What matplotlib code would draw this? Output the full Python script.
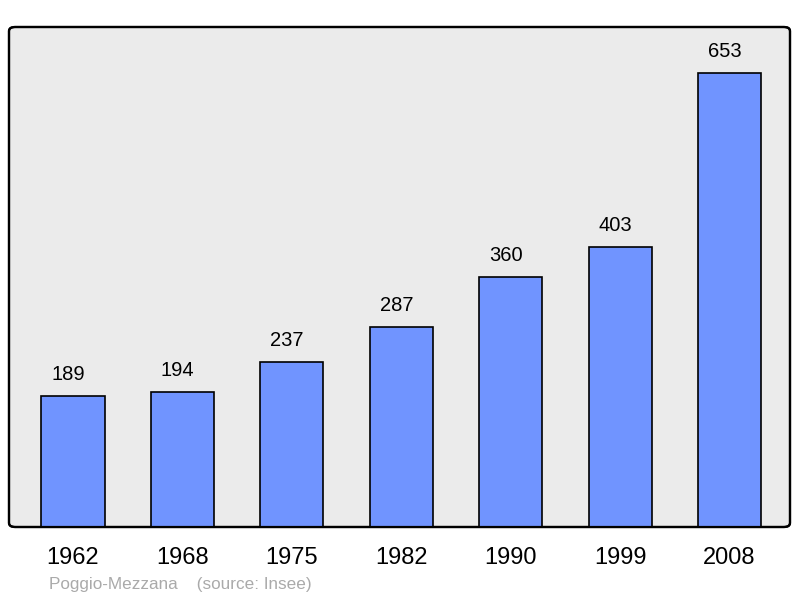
import matplotlib.pyplot as plt
from matplotlib.patches import FancyBboxPatch

# population data
years = ['1962', '1968', '1975', '1982', '1990', '1999', '2008']
population = [189, 194, 237, 287, 360, 403, 653]
commune = 'Poggio-Mezzana'
source = '(source: Insee)'

plt.rcParams['font.family'] = ['Liberation Sans', 'DejaVu Sans']

fig = plt.figure(figsize=(8, 5.98), dpi=100)
ax = fig.add_axes([9 / 800, 71 / 598, 781 / 800, 500 / 598])
ax.set_facecolor('none')

x = range(len(years))
bars = ax.bar(x, population, width=0.576, color='#7094ff', edgecolor='black',
              linewidth=1.2, zorder=3)

for b, v in zip(bars, population):
    ax.annotate(str(v), (b.get_x() + b.get_width() / 2, v), xytext=(-3.6, 15.5),
                textcoords='offset points', ha='center', va='center', fontsize=14.5)

ax.set_xlim(-0.585, 6.553)
ax.set_ylim(0, 719)
ax.set_xticks(list(x))
ax.set_xticklabels(years, fontsize=17)
ax.tick_params(axis='x', length=0, pad=14.5)
ax.set_yticks([])
for s in ax.spines.values():
    s.set_visible(False)

# rounded frame
frame = FancyBboxPatch((0, 0), 1, 1, boxstyle='round,pad=0,rounding_size=0.008',
                       transform=ax.transAxes, facecolor='#ebebeb', edgecolor='black',
                       linewidth=1.6, zorder=0, clip_on=False)
ax.add_patch(frame)
# redraw border on top of bars
border = FancyBboxPatch((0, 0), 1, 1, boxstyle='round,pad=0,rounding_size=0.008',
                        transform=ax.transAxes, facecolor='none', edgecolor='black',
                        linewidth=1.6, zorder=5, clip_on=False)
ax.add_patch(border)

fig.text(49 / 800, 1 - 585 / 598, commune + '    ' + source, color='#aaaaaa',
         fontsize=12.3, ha='left', va='center')

fig.savefig('out.png', dpi=100)
